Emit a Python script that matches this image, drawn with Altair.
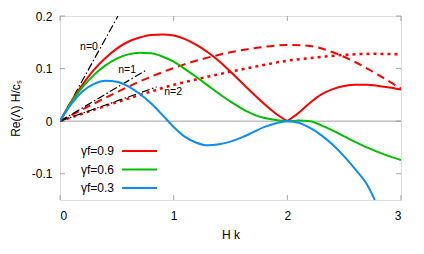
import altair as alt
import pandas as pd

# ---- data ----
red_x = [0, 0.1, 0.2, 0.3, 0.4, 0.5, 0.6, 0.7, 0.8, 0.9, 1.0, 1.1, 1.2, 1.3, 1.4, 1.5, 1.6, 1.7, 1.8, 1.9, 2.0,
         2.0, 2.1, 2.2, 2.3, 2.4, 2.5, 2.6, 2.7, 2.8, 2.9, 3.0]
red_y = [0, 0.038, 0.070, 0.098, 0.120, 0.138, 0.151, 0.159, 0.164, 0.165, 0.163, 0.156, 0.145, 0.131, 0.114, 0.094,
         0.073, 0.052, 0.032, 0.014, 0.0,
         0.0, 0.016, 0.035, 0.051, 0.061, 0.067, 0.069, 0.069, 0.067, 0.064, 0.060]
red_seg = [0] * 21 + [1] * 11

green_x = [0, 0.1, 0.2, 0.3, 0.4, 0.5, 0.6, 0.7, 0.8, 0.9, 1.0, 1.1, 1.2, 1.3, 1.4, 1.5, 1.6, 1.7, 1.8, 1.9, 2.0,
           2.1, 2.2, 2.3, 2.4, 2.5, 2.6, 2.7, 2.8, 2.9, 3.0]
green_y = [0, 0.036, 0.065, 0.088, 0.106, 0.119, 0.127, 0.130, 0.129, 0.123, 0.113, 0.099, 0.084, 0.068, 0.052,
           0.037, 0.024, 0.013, 0.006, 0.002, 0.0, 0.001, 0.0, -0.008, -0.018, -0.029, -0.040, -0.050, -0.059,
           -0.067, -0.074]

blue_x = [0, 0.1, 0.2, 0.3, 0.4, 0.5, 0.6, 0.7, 0.8, 0.9, 1.0, 1.1, 1.2, 1.3, 1.4, 1.5, 1.6, 1.7, 1.8, 1.9, 2.0,
          2.1, 2.2, 2.3, 2.4, 2.5, 2.6, 2.7, 2.77]
blue_y = [0, 0.033, 0.057, 0.071, 0.077, 0.075, 0.066, 0.052, 0.034, 0.012, -0.011, -0.030, -0.041, -0.046, -0.044,
          -0.039, -0.031, -0.021, -0.011, -0.004, 0.0, -0.003, -0.013, -0.027, -0.045, -0.067, -0.092, -0.120, -0.150]

dash_x = [0, 0.25, 0.5, 0.75, 1.0, 1.25, 1.5, 1.75, 2.0, 2.2, 2.4, 2.6, 2.8, 3.0]
dash_y = [0, 0.028, 0.055, 0.080, 0.101, 0.118, 0.131, 0.140, 0.145, 0.143, 0.131, 0.112, 0.088, 0.062]

dot_x = [0, 0.25, 0.5, 0.75, 1.0, 1.25, 1.5, 1.75, 2.0, 2.25, 2.5, 2.75, 3.0]
dot_y = [0, 0.018, 0.036, 0.053, 0.069, 0.082, 0.094, 0.105, 0.115, 0.121, 0.126, 0.128, 0.127]

n_names = ["n=0", "n=1", "n=2"]
n_end_x = [0.51, 0.75, 0.85]
n_end_y = [0.20, 0.096, 0.065]
n_lab_x = [0.255, 0.59, 0.995]
n_lab_y = [0.141, 0.097, 0.055]

leg_labels = ["γf=0.9", "γf=0.6", "γf=0.3"]
leg_colors = ["#ff0000", "#00c000", "#0a8cff"]

x_ticks = [0, 1, 2, 3]
y_ticks = [-0.1, 0, 0.1, 0.2]

W, H = 341, 184
font = "Liberation Sans"
xs = alt.Scale(domain=[0, 3], nice=False, zero=False)
ys = alt.Scale(domain=[-0.15, 0.2], nice=False, zero=False)

solid = pd.concat([
    pd.DataFrame({"x": red_x, "y": red_y, "s": "r", "seg": red_seg}),
    pd.DataFrame({"x": green_x, "y": green_y, "s": "g", "seg": 0}),
    pd.DataFrame({"x": blue_x, "y": blue_y, "s": "b", "seg": 0}),
])
solid["key"] = solid["s"] + solid["seg"].astype(str)

base_x = alt.X("x:Q", scale=xs,
               axis=alt.Axis(values=x_ticks, title="H k", grid=False, domain=False, ticks=False,
                             labelFontSize=12, labelFont=font, labelColor="black", labelPadding=10,
                             titleFontSize=12, titleFont=font, titleFontWeight="normal", titleColor="black",
                             titlePadding=8, format="d"))
base_y = alt.Y("y:Q", scale=ys,
               axis=alt.Axis(values=y_ticks, title="Re(Λ) H/cₛ", grid=False, domain=False, ticks=False,
                             labelFontSize=12, labelFont=font, labelColor="black", labelPadding=8,
                             labelExpr="datum.value == 0 ? '0' : (datum.value < 0 ? '-' + format(-datum.value, '.1f') : format(datum.value, '.1f'))",
                             titleFontSize=12, titleFont=font, titleFontWeight="normal", titleColor="black",
                             titlePadding=9))

zero = alt.Chart(pd.DataFrame({"y": [0]})).mark_rule(color="#a0a0a0", strokeWidth=1).encode(y=alt.Y("y:Q", scale=ys))

solid_lines = alt.Chart(solid).mark_line(strokeWidth=2, interpolate="monotone", clip=True).encode(
    x=base_x, y=base_y, detail="key:N",
    color=alt.Color("s:N", scale=alt.Scale(domain=["r", "g", "b"], range=leg_colors), legend=None),
    order="x:Q")

dashed = alt.Chart(pd.DataFrame({"x": dash_x, "y": dash_y})).mark_line(
    color="#ff0000", strokeWidth=2, strokeDash=[8, 5], interpolate="monotone", clip=True).encode(
    x=alt.X("x:Q", scale=xs), y=alt.Y("y:Q", scale=ys))

dotted = alt.Chart(pd.DataFrame({"x": dot_x, "y": dot_y})).mark_line(
    color="#ff0000", strokeWidth=2.5, strokeDash=[3, 4], interpolate="monotone", clip=True).encode(
    x=alt.X("x:Q", scale=xs), y=alt.Y("y:Q", scale=ys))

nlines = pd.DataFrame({"n": n_names * 2, "x": [0] * 3 + n_end_x, "y": [0] * 3 + n_end_y})
black = alt.Chart(nlines).mark_line(color="black", strokeWidth=1.2, strokeDash=[8, 2.5, 1.5, 2.5], clip=True).encode(
    x=alt.X("x:Q", scale=xs), y=alt.Y("y:Q", scale=ys), detail="n:N")

nlab = alt.Chart(pd.DataFrame({"t": n_names, "x": n_lab_x, "y": n_lab_y})).mark_text(
    fontSize=10.5, font=font, color="black").encode(
    x=alt.X("x:Q", scale=xs), y=alt.Y("y:Q", scale=ys), text="t:N")

leg = pd.DataFrame({"t": leg_labels, "c": leg_colors})
leg["py"] = [135 + 18.5 * i for i in range(len(leg_labels))]
leg["x1"] = 62
leg["x2"] = 97
leg["tx"] = 54
leg_text = alt.Chart(leg).mark_text(fontSize=12, font=font, color="black", align="right", baseline="middle").encode(
    x=alt.X("tx:Q", scale=None), y=alt.Y("py:Q", scale=None), text="t:N")
leg_rule = alt.Chart(leg).mark_rule(strokeWidth=2).encode(
    x=alt.X("x1:Q", scale=None), x2="x2:Q", y=alt.Y("py:Q", scale=None),
    color=alt.Color("c:N", scale=None))

tick_col = "#808080"
xt = pd.DataFrame({"x": x_ticks})
yt = pd.DataFrame({"y": y_ticks})
xt_bot = alt.Chart(xt).mark_tick(orient="vertical", size=5, thickness=1, color=tick_col).encode(
    x=alt.X("x:Q", scale=xs), y=alt.value(H - 2.5))
xt_top = alt.Chart(xt).mark_tick(orient="vertical", size=5, thickness=1, color=tick_col).encode(
    x=alt.X("x:Q", scale=xs), y=alt.value(2.5))
yt_l = alt.Chart(yt).mark_tick(orient="horizontal", size=5, thickness=1, color=tick_col).encode(
    y=alt.Y("y:Q", scale=ys), x=alt.value(2.5))
yt_r = alt.Chart(yt).mark_tick(orient="horizontal", size=5, thickness=1, color=tick_col).encode(
    y=alt.Y("y:Q", scale=ys), x=alt.value(W - 2.5))

chart = alt.layer(zero, xt_bot, xt_top, yt_l, yt_r, dotted, dashed, black, solid_lines, nlab, leg_rule, leg_text).properties(
    width=W, height=H,
    autosize=alt.AutoSizeParams(type="none"),
    padding={"left": 52, "top": 8, "right": 15, "bottom": 40},
).configure_view(stroke="#707070", strokeWidth=1).configure(background="white")

chart.save("out.html", embed_options={"renderer": "svg", "actions": False})
